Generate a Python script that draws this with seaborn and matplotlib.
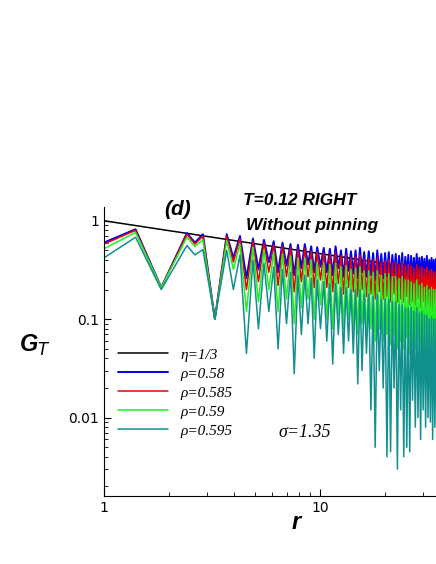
import numpy as np
import matplotlib
matplotlib.use("Agg")
import matplotlib.pyplot as plt
import seaborn as sns
import pandas as pd

sns.set_style("ticks")
plt.rcParams.update({"text.color": "black", "axes.labelcolor": "black",
                     "xtick.color": "black", "ytick.color": "black",
                     "axes.edgecolor": "black"})

r_peaks = [1.40,2.42,2.87,3.70,4.26,4.89,5.5,6.1,6.7,7.3,7.9,8.5,9.1,9.7,
           10.4,11.1,11.8,12.5,13.2,13.9,14.6,15.3,16.0,16.8,17.6,18.4,19.2,20.0,20.8,21.6,
           22.4,23.2,24.0,24.8,25.6,26.4,27.2,28.0,28.8,29.6,30.4,31.2,32.0,32.8,33.6,34.4]
start_vals = {"ρ=0.58": 0.60, "ρ=0.585": 0.58, "ρ=0.59": 0.52, "ρ=0.595": 0.42}
peak_vals = {
 "ρ=0.58": [0.82,0.75,0.73,0.73,0.70,0.66,0.64,0.62,0.60,0.58,0.57,0.58,0.55,0.54,
            0.53,0.52,0.55,0.50,0.52,0.49,0.50,0.53,0.48,0.49,0.47,0.50,0.46,0.47,0.48,0.45,0.46,0.44,0.47,0.43,0.45,0.44,0.42,0.46,0.42,0.43,0.41,0.44,0.40,0.42,0.40,0.41],
 "ρ=0.585": [0.80,0.73,0.70,0.70,0.66,0.62,0.60,0.57,0.55,0.53,0.51,0.52,0.49,0.48,
             0.47,0.46,0.48,0.44,0.45,0.42,0.43,0.45,0.41,0.41,0.40,0.42,0.38,0.39,0.40,0.37,0.38,0.36,0.38,0.35,0.36,0.35,0.33,0.36,0.33,0.34,0.32,0.34,0.31,0.32,0.30,0.31],
 "ρ=0.59": [0.76,0.68,0.64,0.63,0.58,0.54,0.51,0.48,0.46,0.44,0.42,0.42,0.40,0.38,
            0.37,0.36,0.37,0.34,0.35,0.32,0.33,0.34,0.31,0.31,0.30,0.31,0.28,0.29,0.29,0.27,0.27,0.26,0.27,0.25,0.25,0.24,0.23,0.25,0.22,0.23,0.21,0.22,0.20,0.21,0.20,0.20],
 "ρ=0.595": [0.68,0.56,0.51,0.50,0.45,0.40,0.37,0.34,0.32,0.30,0.28,0.28,0.26,0.25,
             0.24,0.23,0.23,0.21,0.21,0.20,0.20,0.20,0.18,0.18,0.17,0.18,0.16,0.16,0.16,0.15,0.15,0.14,0.14,0.13,0.13,0.13,0.12,0.13,0.115,0.12,0.11,0.11,0.10,0.105,0.10,0.10],
}
trough_vals = {
 "ρ=0.58": [0.21,0.60,0.10,0.42,0.26,0.32,0.38,0.30,0.35,0.28,0.33,0.36,0.30,0.34,
            0.30,0.28,0.33,0.27,0.31,0.29,0.26,0.30,0.27,0.28,0.25,0.29,0.26,0.27,0.24,0.28,0.25,0.26,0.24,0.27,0.23,0.25,0.24,0.26,0.23,0.25,0.22,0.24,0.23,0.22,0.24],
 "ρ=0.585": [0.21,0.58,0.10,0.38,0.20,0.24,0.30,0.22,0.27,0.19,0.24,0.27,0.21,0.25,
             0.21,0.19,0.23,0.18,0.21,0.19,0.17,0.20,0.17,0.18,0.16,0.19,0.16,0.17,0.15,0.18,0.15,0.16,0.15,0.17,0.14,0.15,0.14,0.16,0.13,0.15,0.13,0.14,0.13,0.12,0.14],
 "ρ=0.59": [0.21,0.55,0.10,0.32,0.12,0.15,0.20,0.12,0.16,0.09,0.13,0.16,0.10,0.14,
            0.10,0.08,0.11,0.08,0.10,0.08,0.07,0.09,0.07,0.08,0.06,0.08,0.06,0.07,0.055,0.07,0.05,0.06,0.05,0.065,0.045,0.055,0.05,0.06,0.04,0.05,0.04,0.045,0.04,0.035,0.045],
 "ρ=0.595": [0.20,0.45,0.10,0.20,0.045,0.08,0.12,0.05,0.09,0.028,0.07,0.09,0.04,0.08,
             0.06,0.035,0.07,0.045,0.06,0.045,0.022,0.03,0.045,0.012,0.005,0.03,0.02,0.004,0.0045,0.02,0.003,0.012,0.004,0.005,0.0045,0.015,0.008,0.01,0.006,0.012,0.008,0.01,0.009,0.006,0.008],
}
eta_r = [1.0, 34.4]
eta_g = [1.0, 0.307]
colors = {"ρ=0.58": "#0000ee", "ρ=0.585": "#ee0000", "ρ=0.59": "#22ee22", "ρ=0.595": "#108f8f"}
widths = {"ρ=0.58": 1.4, "ρ=0.585": 1.1, "ρ=0.59": 1.1, "ρ=0.595": 1.1}

rp = np.array(r_peaks)
r_tr = np.sqrt(rp[:-1] * rp[1:])
rows = []
for name in peak_vals:
    rows.append((name, 1.0, start_vals[name], 0))
    for i, (r, v) in enumerate(zip(rp, peak_vals[name])):
        rows.append((name, r, v, 2 * i + 1))
        if i < len(r_tr):
            rows.append((name, r_tr[i], trough_vals[name][i], 2 * i + 2))
df = pd.DataFrame(rows, columns=["series", "r", "G", "order"])

fig = plt.figure(figsize=(4.36, 5.64), dpi=100)
ax = fig.add_axes([0.2385, 0.1206, 0.7615, 0.5124])
ax.plot(eta_r, eta_g, color="black", lw=1.1, label="η=1/3")
for name in peak_vals:
    d = df[df.series == name].sort_values("order")
    sns.lineplot(x=d.r.values, y=d.G.values, ax=ax, color=colors[name], lw=widths[name],
                 label=name, sort=False, estimator=None)
ax.set_xscale("log"); ax.set_yscale("log")
ax.set_xlim(1, 34.4); ax.set_ylim(0.0016, 1.38)
ax.set_xticks([1, 10]); ax.set_xticklabels(["1", "10"])
ax.set_yticks([0.01, 0.1, 1]); ax.set_yticklabels(["0.01", "0.1", "1"])
ax.tick_params(which="both", direction="in", labelsize=10)
ax.tick_params(which="major", length=5)
ax.tick_params(which="minor", length=3)
for s in ["top", "right"]:
    ax.spines[s].set_visible(False)
ax.set_xlabel("")
ax.set_ylabel("")
leg = ax.legend(loc="upper left", bbox_to_anchor=(0.0, 0.56), frameon=False,
                handlelength=3.3, labelspacing=0.35,
                prop={"family": "Liberation Serif", "style": "italic", "size": 11})
fig.text(0.408, 0.628, "(d)", ha="center", va="center", fontsize=15, fontweight="bold",
         style="italic", family="Liberation Sans")
fig.text(0.688, 0.645, "T=0.12 RIGHT", ha="center", va="center", fontsize=12.5,
         fontweight="bold", style="italic", family="Liberation Sans")
fig.text(0.716, 0.600, "Without pinning", ha="center", va="center", fontsize=12.5,
         fontweight="bold", style="italic", family="Liberation Sans")
fig.text(0.70, 0.234, "σ=1.35", ha="center", va="center", fontsize=13,
         style="italic", family="Liberation Serif")
fig.text(0.08, 0.388, "G$_{T}$", ha="center", va="center", fontsize=17,
         fontweight="bold", style="italic", family="Liberation Sans")
fig.text(0.679, 0.073, "r", ha="center", va="center", fontsize=17,
         fontweight="bold", style="italic", family="Liberation Sans")
fig.savefig("out.png", dpi=100)
